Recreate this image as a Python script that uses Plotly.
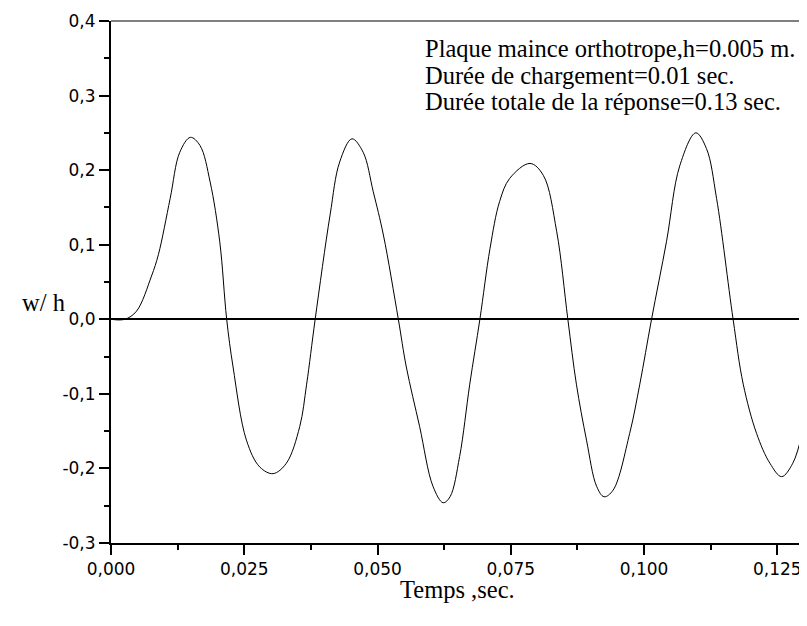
import plotly.graph_objects as go

t = [0, 0.0026, 0.0048, 0.0076, 0.0089, 0.0111, 0.0129, 0.0149, 0.0167, 0.0186, 0.0204,
     0.0217, 0.0229, 0.0254, 0.0279, 0.0304, 0.0329, 0.0354, 0.0367, 0.0383,
     0.0411, 0.0429, 0.0452, 0.0473, 0.0492, 0.0511, 0.0539,
     0.0554, 0.0579, 0.0604, 0.0623, 0.0636, 0.0654, 0.0673, 0.0692,
     0.0711, 0.0729, 0.0748, 0.0786, 0.0811, 0.0836, 0.0857,
     0.0873, 0.0892, 0.0911, 0.0925, 0.0942, 0.0973, 0.0992, 0.1014,
     0.1042, 0.1067, 0.1097, 0.1117, 0.1136, 0.1167,
     0.1186, 0.1211, 0.1236, 0.1258, 0.1279, 0.1298]
w = [0, 0, 0.011, 0.058, 0.087, 0.162, 0.224, 0.244, 0.233, 0.184, 0.104,
     0, -0.064, -0.162, -0.198, -0.207, -0.193, -0.144, -0.087, 0,
     0.140, 0.211, 0.242, 0.224, 0.171, 0.113, 0,
     -0.064, -0.144, -0.224, -0.246, -0.238, -0.184, -0.087, 0,
     0.095, 0.158, 0.189, 0.209, 0.193, 0.118, 0,
     -0.087, -0.162, -0.224, -0.238, -0.229, -0.153, -0.087, 0,
     0.104, 0.206, 0.250, 0.229, 0.162, 0,
     -0.087, -0.153, -0.193, -0.211, -0.193, -0.149]

x_tickvals = [0, 0.025, 0.05, 0.075, 0.1, 0.125]
x_ticktext = ["0,000", "0,025", "0,050", "0,075", "0,100", "0,125"]
y_tickvals = [-0.3, -0.2, -0.1, 0, 0.1, 0.2, 0.3, 0.4]
y_ticktext = ["-0,3", "-0,2", "-0,1", "0,0", "0,1", "0,2", "0,3", "0,4"]

info_lines = ["Plaque maince orthotrope,h=0.005 m.",
              "Durée de chargement=0.01 sec.",
              "Durée totale de la réponse=0.13 sec."]

fig = go.Figure()
fig.add_trace(go.Scatter(x=t, y=w, mode="lines",
                         line=dict(color="black", width=1, shape="spline", smoothing=1.0),
                         showlegend=False, hoverinfo="skip"))

tickfont = dict(family="DejaVu Sans", size=17, color="black")
fig.update_layout(
    width=799, height=618,
    margin=dict(l=103, r=3, t=10, b=83),
    paper_bgcolor="white", plot_bgcolor="white",
    xaxis=dict(range=[0, 0.13], tickvals=x_tickvals, ticktext=x_ticktext,
               ticks="outside", ticklen=10, tickwidth=2, tickcolor="black",
               showline=True, linewidth=2, linecolor="black", showgrid=False,
               zeroline=False, tickfont=tickfont, ticklabeloverflow="allow",
               minor=dict(ticks="outside", ticklen=5, tickwidth=2, tickcolor="black",
                          dtick=0.0125, tick0=0, showgrid=False)),
    yaxis=dict(range=[-0.3, 0.4], tickvals=y_tickvals, ticktext=y_ticktext,
               ticks="outside", ticklen=10, tickwidth=2, tickcolor="black",
               showline=True, linewidth=2, linecolor="black", showgrid=False,
               zeroline=True, zerolinecolor="black", zerolinewidth=1.5,
               tickfont=tickfont, ticklabeloverflow="allow",
               minor=dict(ticks="outside", ticklen=5, tickwidth=2, tickcolor="black",
                          dtick=0.05, tick0=0, showgrid=False)),
)

# top and right thin frame
fig.add_shape(type="line", xref="paper", yref="paper", x0=0, x1=1, y0=1, y1=1,
              line=dict(color="black", width=1))
fig.add_shape(type="line", xref="paper", yref="paper", x0=1, x1=1, y0=0, y1=1,
              line=dict(color="black", width=1))

serif = dict(family="Liberation Serif, Times New Roman", size=24.5, color="black")
centers = [46, 72.5, 99]
for line, cy in zip(info_lines, centers):
    fig.add_annotation(text=line, xref="paper", yref="paper",
                       x=(423 - 111) / 693, y=1 - (cy - 18) / 525.5,
                       xanchor="left", yanchor="middle", showarrow=False, font=serif)

fig.add_annotation(text="w/ h", xref="paper", yref="paper", x=(20 - 111) / 693,
                   y=1 - (301 - 18) / 525.5, xanchor="left", yanchor="middle",
                   showarrow=False, font=serif)
fig.add_annotation(text="Temps ,sec.", xref="paper", yref="paper", x=(458 - 111) / 693,
                   y=1 - (590 - 18) / 525.5, xanchor="center", yanchor="middle",
                   showarrow=False, font=serif)

fig.write_html("out.html")
